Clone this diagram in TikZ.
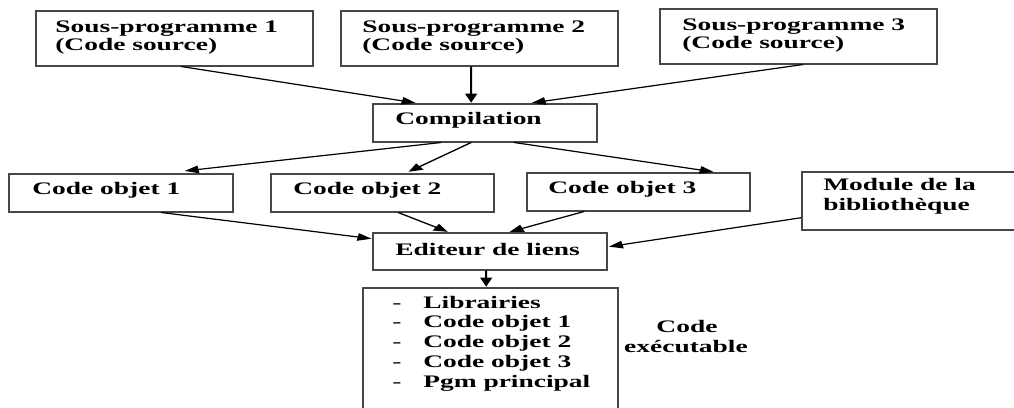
\documentclass[tikz,border=0pt]{standalone}
\usepackage{fontspec}
\setmainfont{Liberation Serif}
\usetikzlibrary{arrows.meta,calc}

% the whole drawing is made narrow and then widened by \wide on the canvas,
% so that type, rules and arrow tips are all stretched alike
\def\wide{1.56}

\tikzset{
  box/.style 2 args={draw=black!72, line width=1.5pt, rectangle, inner sep=0pt,
    anchor=north west, minimum width={#1pt/\wide}, minimum height=#2pt},
  txt/.style={anchor=base west, inner sep=0pt, font=\fontsize{17.6}{19}\selectfont\bfseries},
  link/.style={draw=black, line width=1.2pt, -{Triangle[length=9pt,width=7.5pt]}, shorten >=0.3pt}
}

\begin{document}
\begin{tikzpicture}[x=1pt,y=-1pt]
\useasboundingbox (0,0) rectangle (1014,407);
\begin{scope}[transform canvas={xscale=\wide}, x={1pt/\wide}]

% source sub-programs
\node[box={277}{55}] (sp1) at (35,10) {};
\node[box={277}{55}] (sp2) at (340,10) {};
\node[box={277}{55}] (sp3) at (659,8) {};
\node[txt] (sp1a) at (55,32) {Sous-programme 1};
\node[txt] (sp1b) at (55,50) {(Code source)};
\node[txt] (sp2a) at (362,32) {Sous-programme 2};
\node[txt] (sp2b) at (362,50) {(Code source)};
\node[txt] (sp3a) at (682,30) {Sous-programme 3};
\node[txt] (sp3b) at (682,48) {(Code source)};

% compiler
\node[box={224}{38}] (comp) at (372,103) {};
\node[txt] (compt) at (395,124) {Compilation};

% object files
\node[box={224}{38}] (co1) at (8,173) {};
\node[box={223}{38}] (co2) at (270,173) {};
\node[box={223}{38}] (co3) at (526,172) {};
\node[txt] (co1t) at (32,194) {Code objet 1};
\node[txt] (co2t) at (293,194) {Code objet 2};
\node[txt] (co3t) at (548,193) {Code objet 3};

% library module (runs past the right edge)
\node[box={240}{58}] (mod) at (801,171) {};
\node[txt] (moda) at (823,190) {Module de la};
\node[txt] (modb) at (823,210) {bibliothèque};

% linker
\node[box={234}{37}] (edit) at (372,232) {};
\node[txt] (editt) at (395,255) {Editeur de liens};

% executable (runs past the lower edge)
\node[box={255}{130}] (exec) at (362,287) {};
\foreach \t [count=\i] in {Librairies, Code objet 1, Code objet 2, Code objet 3, Pgm principal} {
  \node[txt, font=\fontsize{17.6}{19}\selectfont\mdseries] (dash\i) at (392,{308+19.8*(\i-1)}) {-};
  \node[txt] (item\i) at (423,{308+19.8*(\i-1)}) {\t};
}
\node[txt, anchor=base] (exa) at (687,332) {Code};
\node[txt, anchor=base] (exb) at (686,352) {exécutable};

% connectors
\draw[link] ($(sp1.south)+(6.5,0)$) -- ($(comp.north)+(-69,0)$);
\draw[link] ($(sp2.south)+(-8.5,0)$) -- ($(comp.north)+(-14,0)$);
\draw[link] ($(sp3.south)+(4.5,0)$) -- ($(comp.north)+(46,0)$);
\draw[link] ($(comp.south)+(-44,0)$) -- ($(co1.north)+(63,-2)$);
\draw[link] ($(comp.south)+(-14,0)$) -- ($(co2.north)+(25.5,-1)$);
\draw[link] ($(comp.south)+(29,0)$) -- ($(co3.north)+(75.5,0)$);
\draw[link] ($(co1.south)+(40,0)$) -- ($(edit.west)+(0,-12.5)$);
\draw[link] ($(co2.south)+(15.5,0)$) -- ($(edit.north)+(-42,0)$);
\draw[link] ($(co3.south)+(-54.5,0)$) -- ($(edit.north)+(19,0)$);
\draw[link] ($(mod.west)+(0,17)$) -- ($(edit.east)+(0,-4.5)$);
\draw[link] ($(edit.south)+(-4,0)$) -- ($(exec.north)+(-4.5,0)$);
\end{scope}
\end{tikzpicture}
\end{document}
